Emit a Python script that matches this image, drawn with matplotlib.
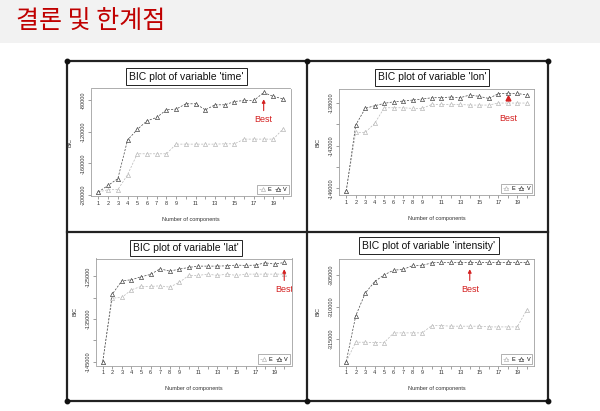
import matplotlib
matplotlib.use('Agg')
import matplotlib.pyplot as plt
from matplotlib.lines import Line2D

plt.rcParams['font.family'] = ['Liberation Sans', 'DejaVu Sans']

# number of mixture components
comps = list(range(1, 21))
xtick_labels = ['1', '2', '3', '4', '5', '6', '7', '8', '9', '', '11', '',
                '13', '', '15', '', '17', '', '19', '']

# BIC values (V = unequal variance, E = equal variance)
time_v = [-196600, -188100, -179600, -130400, -116900, -105900, -101600, -91900,
          -91000, -84200, -84200, -91900, -85500, -85500, -81300, -80000,
          -80000, -69800, -74900, -77900]
time_e = [-196600, -193600, -193600, -174600, -147900, -147900, -147900, -147900,
          -135600, -135600, -135600, -135600, -135600, -135200, -135200, -129200,
          -129200, -129200, -129200, -116000]
time_yticks = [-200000, -160000, -120000, -80000]
time_ylabels = ['-200000', '-160000', '-120000', '-80000']

lon_v = [-146250, -140080, -138530, -138280, -138060, -137910, -137850, -137750,
         -137660, -137530, -137530, -137470, -137530, -137280, -137410, -137600,
         -137160, -137130, -137130, -137280]
lon_e = [-146250, -140770, -140770, -139930, -138470, -138470, -138470, -138530,
         -138530, -138160, -138160, -138160, -138160, -138220, -138220, -138220,
         -138030, -138030, -138030, -138030]
lon_yticks = [-146000, -144000, -142000, -140000, -138000]
lon_ylabels = ['-146000', '', '-142000', '', '-138000']

lat_v = [-145000, -129160, -126020, -125780, -125080, -124530, -123200, -123750,
         -123280, -122880, -122570, -122570, -122570, -122490, -122330, -122410,
         -122330, -121790, -122100, -121710]
lat_e = [-145000, -130100, -129940, -128140, -127350, -127350, -127200, -127510,
         -126410, -124760, -124760, -124450, -124760, -124450, -124760, -124450,
         -124450, -124450, -124450, -124450]
lat_yticks = [-145000, -140000, -135000, -130000, -125000]
lat_ylabels = ['-145000', '', '-135000', '', '-125000']

int_v = [-318470, -311370, -307850, -306040, -305000, -304270, -304170, -303550,
         -303550, -303130, -303080, -303080, -303080, -303080, -303080, -303080,
         -303080, -303080, -303080, -303080]
int_e = [-318470, -315470, -315470, -315520, -315520, -314020, -314020, -314020,
         -314020, -312880, -312880, -312980, -312980, -312980, -312980, -313090,
         -313090, -313090, -313090, -310440]
int_yticks = [-315000, -310000, -305000]
int_ylabels = ['-315000', '-310000', '-305000']

W, H = 600, 411
RED = '#d42020'


def px_box(l, t, r, b):
    return [l / W, 1 - b / H, (r - l) / W, (b - t) / H]


fig = plt.figure(figsize=(6, 4.11), dpi=100)
fig.patch.set_facecolor('white')

# slide background, header and frame
bg = fig.add_axes([0, 0, 1, 1])
bg.set_xlim(0, W)
bg.set_ylim(H, 0)
bg.axis('off')
bg.add_patch(plt.Rectangle((0, 0), W, 43, color='#f2f2f2', lw=0))
bg.text(16, 22, '결론 및 한계점', color='#c00000', fontsize=18, va='center',
        ha='left', family=['Noto Sans CJK KR', 'DejaVu Sans'])

fx = [67, 307, 548]
fy = [61, 232, 401]
for x in fx:
    bg.add_line(Line2D([x, x], [fy[0], fy[-1]], color='#222222', lw=1.6))
for y in fy:
    bg.add_line(Line2D([fx[0], fx[-1]], [y, y], color='#222222', lw=1.6))
for x in fx:
    for y in (fy[0], fy[-1]):
        bg.plot(x, y, 'o', color='#111111', ms=3.2)

panels = [
    ("BIC plot of variable 'time'", time_v, time_e, time_yticks, time_ylabels,
     (91, 88.5, 290.5, 196), (186.5, 76.5), 18, 'arrow'),
    ("BIC plot of variable 'lon'", lon_v, lon_e, lon_yticks, lon_ylabels,
     (339, 89.5, 534, 195), (432, 77.5), 18, 'marker'),
    ("BIC plot of variable 'lat'", lat_v, lat_e, lat_yticks, lat_ylabels,
     (95.5, 258.5, 291.5, 365.5), (186, 248), 20, 'arrow'),
    ("BIC plot of variable 'intensity'", int_v, int_e, int_yticks, int_ylabels,
     (339, 258.5, 534, 365.5), (429, 245.5), 14, 'arrow'),
]

for title, v, e, yticks, ylabels, box, tpos, best, style in panels:
    ax = fig.add_axes(px_box(*box))
    ax.plot(comps, e, ls='--', lw=0.5, color='#b8b8b8', marker='^', ms=3,
            mfc='white', mec='#b8b8b8', mew=0.5, label='E', dashes=(3, 2))
    ax.plot(comps, v, ls='--', lw=0.5, color='#444444', marker='^', ms=3,
            mfc='white', mec='#444444', mew=0.5, label='V', dashes=(3, 2))

    lo = min(min(v), min(e))
    hi = max(max(v), max(e))
    rng = hi - lo
    ax.set_xlim(1 - 0.04 * 19, 20 + 0.04 * 19)
    ax.set_ylim(lo - 0.04 * rng, hi + 0.04 * rng)

    ax.set_xticks(comps)
    ax.set_xticklabels(xtick_labels)
    ax.set_yticks(yticks)
    ax.set_yticklabels(ylabels, rotation=90, va='center')
    ax.tick_params(direction='out', length=2, width=0.5, color='#777777',
                   labelsize=4, labelcolor='#333333', pad=1.5)
    for s in ax.spines.values():
        s.set_color('#a0a0a0')
        s.set_linewidth(0.6)
    ax.set_xlabel('Number of components', fontsize=4, color='#333333', labelpad=8)
    ax.set_ylabel('BIC', fontsize=4, color='#333333', labelpad=6)

    # best model marker
    bv = v[best - 1]
    if style == 'arrow':
        ax.annotate('', xy=(best, bv - 0.04 * rng), xytext=(best, bv - 0.21 * rng),
                    arrowprops=dict(arrowstyle='-|>', color=RED, lw=0.8,
                                    mutation_scale=5))
        ax.text(best, bv - 0.27 * rng, 'Best', color=RED, fontsize=6.5,
                ha='center', va='center', clip_on=True)
    else:
        ax.plot(best, bv - 0.045 * rng, '^', color=RED, ms=3.5)
        ax.text(best, bv - 0.26 * rng, 'Best', color=RED, fontsize=6.5,
                ha='center', va='center', clip_on=True)

    leg = ax.legend(loc='lower right', ncol=2, fontsize=4, frameon=True,
                    handlelength=1.2, handletextpad=0.3, columnspacing=0.6,
                    borderpad=0.4, borderaxespad=0.3, fancybox=False)
    leg.get_frame().set_edgecolor('#777777')
    leg.get_frame().set_linewidth(0.5)

    bg.text(tpos[0], tpos[1], title, fontsize=7.5, ha='center', va='center',
            color='#111111',
            bbox=dict(boxstyle='square,pad=0.3', fc='white', ec='#222222', lw=0.7))

fig.savefig('out.png', dpi=100)
